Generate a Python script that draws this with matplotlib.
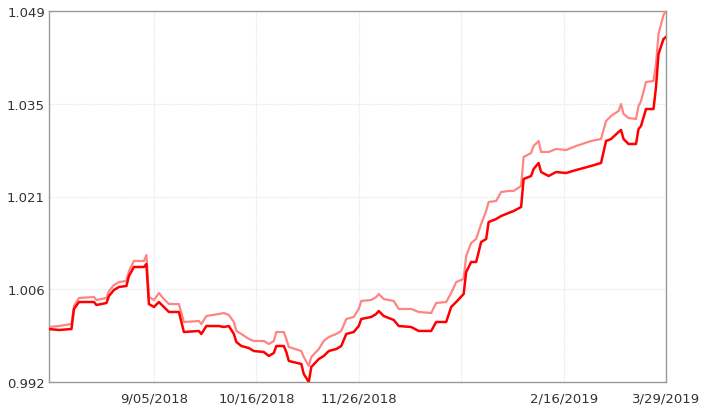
import matplotlib
matplotlib.use("Agg")
import matplotlib.pyplot as plt
import pandas as pd

start_date = "2018-07-25"
day_offsets = [0, 4, 9, 10, 12, 18, 19, 23, 24, 26, 28, 31, 32, 34, 38, 39, 40, 42, 44, 46,
               48, 52, 54, 60, 61, 63, 68, 70, 72, 74, 75, 77, 80, 82, 86, 88, 90, 91, 94, 95,
               96, 101, 102, 104, 105, 108, 110, 112, 115, 117, 119, 122, 124, 125, 129, 131, 132, 134, 138, 140,
               145, 148, 153, 155, 159, 161, 163, 166, 167, 169, 171, 173, 175, 176, 179, 181, 184, 186, 189, 190,
               193, 194, 196, 197, 200, 203, 207, 211, 217, 221, 223, 225, 228, 229, 230, 232, 235, 236, 237, 239,
               242, 243, 244, 246, 247]

series_main = [1.00014, 0.99999, 1.00014, 1.00322, 1.00429, 1.00429, 1.00383, 1.00414, 1.00521, 1.00614,
               1.00660, 1.00675, 1.00829, 1.00967, 1.00967, 1.01013, 1.00398, 1.00352, 1.00429, 1.00352,
               1.00276, 1.00276, 0.99968, 0.99984, 0.99938, 1.00060, 1.00060, 1.00045, 1.00060, 0.99938,
               0.99815, 0.99753, 0.99722, 0.99676, 0.99661, 0.99600, 0.99646, 0.99753, 0.99753, 0.99661,
               0.99523, 0.99477, 0.99323, 0.99200, 0.99431, 0.99553, 0.99600, 0.99676, 0.99707, 0.99753,
               0.99938, 0.99968, 1.00060, 1.00168, 1.00199, 1.00245, 1.00291, 1.00214, 1.00153, 1.00060,
               1.00045, 0.99984, 0.99984, 1.00122, 1.00122, 1.00352, 1.00429, 1.00552, 1.00890, 1.01044,
               1.01044, 1.01351, 1.01397, 1.01658, 1.01704, 1.01750, 1.01797, 1.01827, 1.01889, 1.02319,
               1.02365, 1.02473, 1.02565, 1.02426, 1.02365, 1.02426, 1.02411, 1.02457, 1.02519, 1.02565,
               1.02903, 1.02933, 1.03041, 1.03072, 1.02933, 1.02857, 1.02857, 1.03087, 1.03133, 1.03394,
               1.03394, 1.03732, 1.04239, 1.04470, 1.04501]

series_light = [1.00045, 1.00060, 1.00091, 1.00368, 1.00491, 1.00506, 1.00460, 1.00491, 1.00598, 1.00690,
                1.00736, 1.00752, 1.00905, 1.01059, 1.01059, 1.01151, 1.00506, 1.00460, 1.00567, 1.00475,
                1.00398, 1.00398, 1.00122, 1.00137, 1.00091, 1.00214, 1.00245, 1.00260, 1.00229, 1.00122,
                0.99984, 0.99938, 0.99861, 0.99830, 0.99830, 0.99784, 0.99830, 0.99968, 0.99968, 0.99861,
                0.99738, 0.99676, 0.99584, 0.99446, 0.99584, 0.99707, 0.99830, 0.99891, 0.99938, 0.99984,
                1.00168, 1.00199, 1.00322, 1.00445, 1.00460, 1.00506, 1.00552, 1.00475, 1.00445, 1.00322,
                1.00322, 1.00276, 1.00260, 1.00414, 1.00429, 1.00567, 1.00736, 1.00783, 1.01136, 1.01336,
                1.01397, 1.01628, 1.01827, 1.01966, 1.01981, 1.02119, 1.02135, 1.02135, 1.02211, 1.02657,
                1.02718, 1.02826, 1.02903, 1.02734, 1.02734, 1.02780, 1.02764, 1.02826, 1.02903, 1.02933,
                1.03210, 1.03287, 1.03364, 1.03471, 1.03318, 1.03256, 1.03241, 1.03440, 1.03517, 1.03809,
                1.03825, 1.04086, 1.04547, 1.04839, 1.04900]

x_tick_dates = ["2018-09-05", "2018-10-16", "2018-11-26", "2019-01-06", "2019-02-16", "2019-03-29"]
x_tick_labels = ["9/05/2018", "10/16/2018", "11/26/2018", "", "2/16/2019", "3/29/2019"]
y_ticks = [0.992, 1.00625, 1.0205, 1.03475, 1.049]
y_tick_labels = ["0.992", "1.006", "1.021", "1.035", "1.049"]

dates = pd.Timestamp(start_date) + pd.to_timedelta(day_offsets, unit="D")

fig = plt.figure(figsize=(7.04, 4.10), dpi=100)
ax = fig.add_axes([49/704, 27/410, 617/704, 371/410])

ax.plot(dates, series_light, color="#ff8585", lw=1.6, zorder=3)
ax.plot(dates, series_main, color="#ff0000", lw=1.8, zorder=4)

ax.set_xlim(dates[0], dates[-1])
ax.set_ylim(min(series_main + series_light), max(series_main + series_light))

ax.set_xticks(pd.to_datetime(x_tick_dates))
ax.set_xticklabels(x_tick_labels)
ax.set_yticks(y_ticks)
ax.set_yticklabels(y_tick_labels)

ax.grid(True, color="#ebebeb", lw=0.8, ls=(0, (2, 1)))
ax.set_axisbelow(True)
ax.tick_params(axis="both", length=0, labelsize=9.5, labelcolor="#333333")
ax.tick_params(axis="x", pad=7)
ax.tick_params(axis="y", pad=3)
for s in ax.spines.values():
    s.set_color("#999999")
    s.set_linewidth(1.0)

fig.savefig("out.png", dpi=100)
